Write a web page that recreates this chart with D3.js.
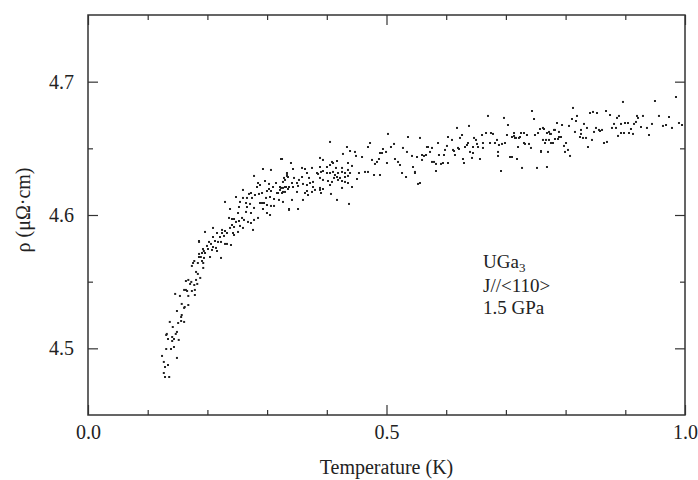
<!DOCTYPE html>
<html>
<head>
<meta charset="utf-8">
<script src="https://cdn.jsdelivr.net/npm/d3@7"></script>
<style>
    body { margin: 0; background: #fff; }
    #chart { width: 698px; height: 480px; }
</style>
</head>
<body>
<div id="chart"></div>
<script>

// temperature (K) and resistivity (µΩ·cm)
let temperature = [
    0.186,0.194,0.186,0.189,0.178,0.191,0.176,0.184,0.174,0.193,0.193,0.181,0.184,0.188,0.168,0.164,0.173,0.181,0.171,0.178,
    0.183,0.161,0.164,0.179,0.174,0.166,0.146,0.154,0.168,0.179,0.157,0.168,0.161,0.162,0.149,0.157,0.156,0.137,0.151,0.156,
    0.161,0.142,0.149,0.147,0.132,0.131,0.134,0.141,0.141,0.144,0.152,0.144,0.131,0.139,0.149,0.124,0.127,0.134,0.129,0.127,
    0.129,0.136,
    0.3233,0.2931,0.3065,0.3333,0.3333,0.3283,0.2781,0.2965,0.3149,0.3032,0.2848,0.2881,0.2831,0.3099,0.3216,0.3300,0.3367,
    0.3032,0.3065,0.2998,0.3216,0.3266,0.3166,0.3183,0.2730,0.2697,0.2596,0.2864,0.2915,0.2797,0.2479,0.2596,0.2663,0.2747,
    0.2982,0.3049,0.3116,0.3199,0.2295,0.2546,0.2647,0.2714,0.2881,0.2915,0.2948,0.2998,0.3065,0.3116,0.2663,0.2781,0.2379,
    0.2529,0.2931,0.3367,0.2513,0.2647,0.2730,0.2998,0.3049,0.2362,0.2412,0.2446,0.2580,0.2613,0.2848,0.2781,0.2479,0.2529,
    0.2680,0.2730,0.2412,0.2446,0.2546,0.2596,0.2764,0.2094,0.1960,0.2245,0.2295,0.2379,0.2513,0.2429,0.2161,0.2245,0.2328,
    0.2094,0.2211,0.2278,0.2446,0.1859,0.2027,0.2127,0.2178,0.2228,0.2060,0.1993,0.2094,0.2295,0.2328,0.2395,0.2144,0.1926,
    0.2010,0.2077,0.2161,0.1910,0.1960,0.1859,0.1943,0.2044,0.2228,
    0.5025,0.4054,0.5360,0.4724,0.4690,0.5126,0.5075,0.4338,0.4271,0.4389,0.4472,0.4941,0.4992,0.5276,0.5343,0.5427,0.5511,
    0.3886,0.3936,0.4489,0.4590,0.4891,0.4925,0.5008,0.5142,0.5193,0.5226,0.4757,0.4841,0.4807,0.4874,0.3400,0.4087,0.4104,
    0.4171,0.4355,0.4422,0.4054,0.3250,0.3434,0.3585,0.3635,0.3752,0.3886,0.4003,0.4154,0.4255,0.4355,0.4539,0.4640,0.4690,
    0.4791,0.4891,0.5260,0.5327,0.5477,0.5444,0.3333,0.3350,0.3668,0.3836,0.3853,0.3903,0.3936,0.4003,0.4054,0.4104,0.4188,
    0.4255,0.4305,0.4389,0.4137,0.4171,0.4221,0.4305,0.4355,0.3451,0.3534,0.3585,0.3702,0.3769,0.3719,0.3886,0.3936,0.4020,
    0.4087,0.4121,0.4188,0.4255,0.4305,0.4355,0.4506,0.3300,0.3266,0.3417,0.3501,0.3601,0.3668,0.3434,0.3518,0.3233,0.3266,
    0.3317,0.3350,0.3769,0.3886,0.3936,0.4054,0.4255,0.4422,0.3250,0.3300,0.3501,0.3668,0.3802,0.3886,0.3903,0.3685,0.3635,
    0.3752,0.4070,0.4171,0.4372,0.3266,0.3417,0.3601,0.3367,0.3518,0.5561,
    0.7437,0.6700,0.7471,0.6968,0.7035,0.6181,0.6382,0.7621,0.7571,0.6667,0.6750,0.6784,0.6600,0.7136,0.7253,0.7303,0.7487,
    0.7688,0.7739,0.5561,0.6030,0.6265,0.6231,0.6097,0.6466,0.6499,0.6851,0.7018,0.7102,0.7152,0.7219,0.7353,0.7621,0.7672,
    0.7755,0.7806,0.6365,0.6348,0.6516,0.6616,0.6734,0.6817,0.6884,0.6935,0.6985,0.7203,0.7320,0.7387,0.7420,0.5678,0.5695,
    0.5762,0.5863,0.6013,0.6114,0.6131,0.6198,0.6214,0.6315,0.6449,0.6533,0.6616,0.6868,0.5595,0.5628,0.5662,0.5729,0.5879,
    0.5980,0.5963,0.6147,0.6399,0.6449,0.6868,0.7588,0.7705,0.5511,0.5595,0.5762,0.5796,0.5829,0.5913,0.5946,0.6030,0.6281,
    0.6298,0.6432,0.6566,0.7069,0.7102,0.7186,0.5829,0.6918,0.7270,0.7521,0.7688,0.5477,0.5528,
    0.9849,0.9497,0.8961,0.8124,0.8459,0.8409,0.8526,0.8677,0.8744,0.8191,0.8107,0.8174,0.8894,0.8861,0.9196,0.9296,0.9213,
    0.9564,0.9732,0.7856,0.7940,0.8057,0.8308,0.8358,0.8811,0.8928,0.8995,0.9045,0.9179,0.9146,0.9447,0.9631,0.9682,0.9899,
    0.9950,0.9782,0.7638,0.7822,0.7889,0.8157,0.8258,0.8509,0.8559,0.8576,0.8610,0.8777,0.8844,0.9095,0.9263,0.9363,0.7136,
    0.7169,0.7236,0.7538,0.7722,0.7755,0.7889,0.7923,0.8258,0.8241,0.8291,0.8342,0.8476,0.8878,0.8928,0.8978,0.9062,0.9129,
    0.9397,0.7303,0.7655,0.7789,0.7973,0.8007,0.8442,0.8693,0.8643,0.7822,0.7873,0.7722,0.7588,0.7990,0.8040,0.8074,0.8375
];

let rho = [
    4.5798,4.5730,4.5708,4.5685,4.5655,4.5655,4.5640,4.5640,4.5618,4.5640,4.5603,4.5573,4.5558,4.5528,4.5513,4.5505,4.5498,
    4.5513,4.5483,4.5475,4.5483,4.5438,4.5438,4.5438,4.5430,4.5430,4.5408,4.5393,4.5393,4.5400,4.5333,4.5325,4.5303,4.5310,
    4.5280,4.5250,4.5235,4.5198,4.5190,4.5205,4.5198,4.5160,4.5123,4.5108,4.5108,4.5100,4.5070,4.5085,4.5055,4.5070,4.5063,
    4.5010,4.4995,4.4995,4.4928,4.4943,4.4898,4.4875,4.4860,4.4815,4.4785,4.4785,
    4.6420,4.6345,4.6338,4.6315,4.6293,4.6278,4.6293,4.6255,4.6240,4.6233,4.6240,4.6225,4.6210,4.6210,4.6210,4.6210,4.6210,
    4.6195,4.6180,4.6180,4.6188,4.6173,4.6165,4.6165,4.6165,4.6158,4.6188,4.6158,4.6165,4.6150,4.6135,4.6128,4.6128,4.6128,
    4.6128,4.6135,4.6120,4.6113,4.6098,4.6098,4.6090,4.6083,4.6090,4.6090,4.6090,4.6075,4.6068,4.6068,4.6060,4.6053,4.6045,
    4.6060,4.6045,4.6038,4.6015,4.6023,4.6015,4.6015,4.6000,4.5978,4.5970,4.5970,4.5978,4.5963,4.5978,4.5963,4.5948,4.5955,
    4.5948,4.5940,4.5925,4.5910,4.5918,4.5903,4.5888,4.5903,4.5873,4.5888,4.5880,4.5903,4.5873,4.5865,4.5865,4.5865,4.5865,
    4.5835,4.5835,4.5843,4.5850,4.5805,4.5798,4.5805,4.5798,4.5798,4.5783,4.5768,4.5760,4.5783,4.5783,4.5775,4.5753,4.5745,
    4.5745,4.5738,4.5730,4.5715,4.5715,4.5685,4.5678,4.5685,4.5678,
    4.6608,4.6548,4.6585,4.6540,4.6510,4.6533,4.6510,4.6510,4.6458,4.6480,4.6473,4.6495,4.6473,4.6503,4.6473,4.6443,4.6435,
    4.6428,4.6413,4.6443,4.6435,4.6465,4.6465,4.6390,4.6420,4.6398,4.6375,4.6413,4.6398,4.6383,4.6420,4.6390,4.6398,4.6390,
    4.6405,4.6390,4.6368,4.6375,4.6420,4.6345,4.6353,4.6345,4.6353,4.6360,4.6360,4.6353,4.6353,4.6338,4.6315,4.6323,4.6323,
    4.6300,4.6300,4.6315,4.6285,4.6323,4.6360,4.6308,4.6285,4.6315,4.6315,4.6308,4.6323,4.6330,4.6315,4.6315,4.6323,4.6315,
    4.6323,4.6315,4.6315,4.6300,4.6285,4.6278,4.6285,4.6293,4.6278,4.6263,4.6285,4.6278,4.6248,4.6240,4.6278,4.6263,4.6255,
    4.6248,4.6278,4.6263,4.6255,4.6248,4.6240,4.6270,4.6263,4.6248,4.6240,4.6240,4.6233,4.6225,4.6210,4.6218,4.6203,4.6203,
    4.6210,4.6195,4.6210,4.6203,4.6195,4.6225,4.6203,4.6210,4.6165,4.6173,4.6173,4.6180,4.6188,4.6188,4.6165,4.6150,4.6165,
    4.6173,4.6158,4.6113,4.6083,4.6098,4.6113,4.6113,4.6045,4.6045,4.6240,
    4.6780,4.6743,4.6720,4.6728,4.6675,4.6653,4.6668,4.6653,4.6645,4.6615,4.6615,4.6608,4.6600,4.6615,4.6615,4.6615,4.6600,
    4.6615,4.6608,4.6578,4.6585,4.6600,4.6578,4.6563,4.6578,4.6563,4.6563,4.6600,4.6585,4.6578,4.6578,4.6600,4.6563,4.6563,
    4.6540,4.6638,4.6540,4.6525,4.6533,4.6540,4.6540,4.6540,4.6525,4.6533,4.6540,4.6510,4.6533,4.6533,4.6503,4.6510,4.6510,
    4.6503,4.6540,4.6518,4.6488,4.6480,4.6503,4.6495,4.6510,4.6510,4.6510,4.6503,4.6473,4.6450,4.6443,4.6450,4.6473,4.6450,
    4.6488,4.6450,4.6450,4.6473,4.6465,4.6443,4.6473,4.6473,4.6435,4.6413,4.6398,4.6398,4.6383,4.6383,4.6390,4.6390,4.6420,
    4.6390,4.6428,4.6420,4.6435,4.6435,4.6420,4.6330,4.6330,4.6353,4.6353,4.6360,4.6315,4.6233,
    4.6885,4.6855,4.6848,4.6803,4.6773,4.6765,4.6765,4.6780,4.6750,4.6743,4.6720,4.6705,4.6743,4.6728,4.6743,4.6743,4.6728,
    4.6743,4.6735,4.6690,4.6675,4.6668,4.6683,4.6653,4.6683,4.6683,4.6690,4.6690,4.6698,4.6683,4.6683,4.6668,4.6675,4.6690,
    4.6675,4.6653,4.6645,4.6638,4.6623,4.6623,4.6638,4.6653,4.6638,4.6630,4.6638,4.6653,4.6653,4.6645,4.6660,4.6653,4.6593,
    4.6578,4.6585,4.6615,4.6623,4.6608,4.6585,4.6585,4.6608,4.6585,4.6578,4.6578,4.6623,4.6593,4.6615,4.6615,4.6615,4.6608,
    4.6600,4.6540,4.6540,4.6540,4.6518,4.6540,4.6563,4.6548,4.6540,4.6570,4.6570,4.6563,4.6480,4.6473,4.6488,4.6443,4.6510
];

let xMajor = [0, 0.5, 1.0];
let xMinor = [0.1, 0.2, 0.3, 0.4, 0.6, 0.7, 0.8, 0.9];
let yMajor = [4.5, 4.6, 4.7];
let yMinor = [4.55, 4.65];
let noteLines = ["J//<110>", "1.5 GPa"];

let fontFamily = "\"Liberation Serif\", \"DejaVu Serif\", \"Times New Roman\", serif";

let margin = {top: 15, right: 13, bottom: 65, left: 88};
let width = 698 - margin.left - margin.right;
let height = 480 - margin.top - margin.bottom;

let svg = d3.select("#chart")
    .append("svg")
    .attr("width", 698)
    .attr("height", 480)
    .attr("font-family", fontFamily)
    .append("g")
    .attr("transform", "translate(" + margin.left + "," + margin.top + ")");

let x = d3.scaleLinear().domain([0, 1.0]).range([0, width]);
let y = d3.scaleLinear().domain([4.45, 4.75]).range([height, 0]);

let points = temperature.map((t, i) => ({t: t, r: rho[i]}));

svg.selectAll(".pt")
    .data(points)
    .enter()
    .append("rect")
    .attr("class", "pt")
    .attr("x", d => x(d.t) - 1)
    .attr("y", d => y(d.r) - 1)
    .attr("width", 2)
    .attr("height", 2)
    .attr("fill", "#222");

// frame + inward ticks on all four sides
function styleAxis(g) {
    g.attr("font-family", fontFamily).attr("font-size", 20);
    g.selectAll(".domain").remove();
    g.selectAll("line").attr("stroke", "#333").attr("stroke-width", 1.2);
    g.selectAll("text").attr("fill", "#222");
}

svg.append("g")
    .attr("transform", "translate(0," + height + ")")
    .call(d3.axisBottom(x).tickValues(xMajor).tickSize(-10).tickPadding(10).tickFormat(d3.format(".1f")))
    .call(styleAxis);
svg.append("g")
    .attr("transform", "translate(0," + height + ")")
    .call(d3.axisBottom(x).tickValues(xMinor).tickSize(-5).tickFormat(""))
    .call(styleAxis);
svg.append("g")
    .call(d3.axisTop(x).tickValues(xMajor).tickSize(-10).tickFormat(""))
    .call(styleAxis);
svg.append("g")
    .call(d3.axisTop(x).tickValues(xMinor).tickSize(-5).tickFormat(""))
    .call(styleAxis);

svg.append("g")
    .call(d3.axisLeft(y).tickValues(yMajor).tickSize(-10).tickPadding(14).tickFormat(d3.format(".1f")))
    .call(styleAxis);
svg.append("g")
    .call(d3.axisLeft(y).tickValues(yMinor).tickSize(-5).tickFormat(""))
    .call(styleAxis);
svg.append("g")
    .attr("transform", "translate(" + width + ",0)")
    .call(d3.axisRight(y).tickValues(yMajor).tickSize(-10).tickFormat(""))
    .call(styleAxis);
svg.append("g")
    .attr("transform", "translate(" + width + ",0)")
    .call(d3.axisRight(y).tickValues(yMinor).tickSize(-5).tickFormat(""))
    .call(styleAxis);

svg.append("rect")
    .attr("width", width)
    .attr("height", height)
    .attr("fill", "none")
    .attr("stroke", "#333")
    .attr("stroke-width", 1.5);

svg.append("text")
    .attr("x", width / 2)
    .attr("y", height + 59)
    .attr("text-anchor", "middle")
    .attr("font-size", 20)
    .attr("fill", "#222")
    .text("Temperature (K)");

svg.append("text")
    .attr("transform", "rotate(-90)")
    .attr("x", 0 - height / 2 + 5)
    .attr("y", 0 - margin.left + 30)
    .attr("text-anchor", "middle")
    .attr("font-size", 20)
    .attr("fill", "#222")
    .text("ρ (μΩ·cm)");

// sample note
let note = svg.append("g")
    .attr("transform", "translate(" + (x(0.66) + 1) + ",0)")
    .attr("font-size", 19)
    .attr("fill", "#222");
let first = note.append("text").attr("y", 253);
first.append("tspan").text("UGa");
first.append("tspan").attr("dy", 4).attr("font-size", 13).text("3");
note.selectAll(".line")
    .data(noteLines)
    .enter()
    .append("text")
    .attr("class", "line")
    .attr("y", (d, i) => 277 + i * 22)
    .text(d => d);

</script>
</body>
</html>
